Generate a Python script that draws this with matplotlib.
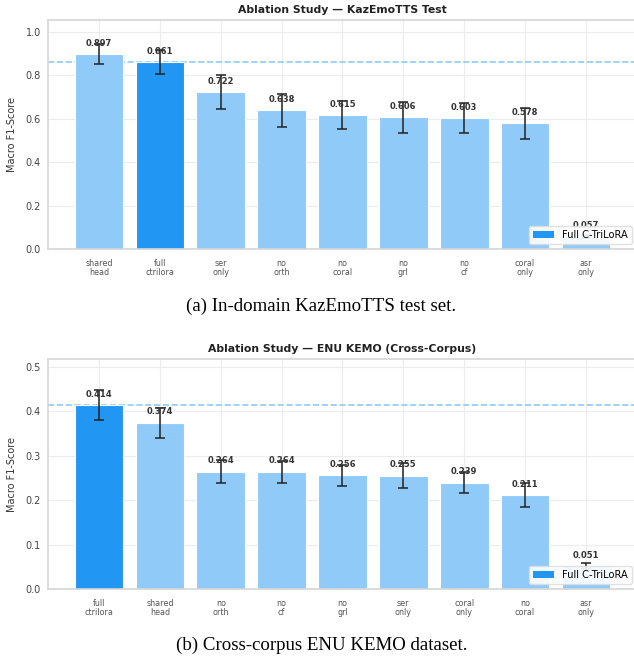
import matplotlib
matplotlib.use("Agg")
import matplotlib.pyplot as plt
from matplotlib.patches import Patch

# in-domain results (KazEmoTTS test)
labels_a = ["shared\nhead", "full\nctrilora", "ser\nonly", "no\north", "no\ncoral",
            "no\ngrl", "no\ncf", "coral\nonly", "asr\nonly"]
f1_a = [0.897, 0.861, 0.722, 0.638, 0.615, 0.606, 0.603, 0.578, 0.057]
std_a = [0.045, 0.055, 0.077, 0.075, 0.065, 0.072, 0.070, 0.070, 0.008]

# cross-corpus results (ENU KEMO)
labels_b = ["full\nctrilora", "shared\nhead", "no\north", "no\ncf", "no\ngrl",
            "ser\nonly", "coral\nonly", "no\ncoral", "asr\nonly"]
f1_b = [0.414, 0.374, 0.264, 0.264, 0.256, 0.255, 0.239, 0.211, 0.051]
std_b = [0.033, 0.034, 0.026, 0.025, 0.024, 0.028, 0.024, 0.027, 0.007]

FULL = "full\nctrilora"
DARK = "#2196F3"
LIGHT = "#90CAF9"


def ablation_panel(ax, labels, vals, errs, title, ymax):
    x = range(len(labels))
    colors = [DARK if l == FULL else LIGHT for l in labels]
    ax.bar(x, vals, width=0.8, color=colors, edgecolor="white", linewidth=0.8,
           yerr=errs, capsize=3.5, error_kw=dict(ecolor="#222222", elinewidth=1.1, capthick=1.1),
           zorder=2)
    for xi, v in zip(x, vals):
        ax.annotate(f"{v:.3f}", (xi, v), xytext=(0, 4.5), textcoords="offset points",
                    ha="center", va="bottom", fontsize=6, fontweight="bold", color="#333333",
                    zorder=3)
    full_val = vals[labels.index(FULL)]
    ax.axhline(full_val, color=LIGHT, ls="--", lw=1.2, zorder=1)
    ax.set_ylim(0, ymax)
    ax.set_xticks(list(x))
    ax.set_xticklabels(labels, fontsize=5.8, color="#555555", linespacing=1.0)
    ax.tick_params(axis="x", length=0, pad=7)
    ax.tick_params(axis="y", length=0, pad=5, labelsize=7, labelcolor="#444444")
    ax.set_ylabel("Macro F1-Score", fontsize=7, color="#333333", labelpad=6)
    ax.set_title(title, fontsize=7.8, fontweight="bold", color="#222222", pad=5)
    ax.grid(True, color="#ececec", lw=0.8, zorder=0)
    ax.set_axisbelow(True)
    for s in ax.spines.values():
        s.set_color("#d5d5d5")
        s.set_linewidth(1.2)
    leg = ax.legend(handles=[Patch(facecolor=DARK, label="Full C-TriLoRA")], loc="lower right",
                    fontsize=7.1, frameon=True, framealpha=0.9, edgecolor="#dddddd",
                    handlelength=2.2, borderpad=0.4, borderaxespad=0.5)
    leg.set_zorder(5)


fig = plt.figure(figsize=(6.34, 6.58), dpi=100)
ax1 = fig.add_axes([0.0757, 0.6216, 0.929, 0.348])
ax2 = fig.add_axes([0.0757, 0.1049, 0.929, 0.349])

ablation_panel(ax1, labels_a, f1_a, std_a, "Ablation Study — KazEmoTTS Test", 1.054)
ablation_panel(ax2, labels_b, f1_b, std_b, "Ablation Study — ENU KEMO (Cross-Corpus)", 0.5166)

fig.text(0.507, 0.534, "(a) In-domain KazEmoTTS test set.", ha="center", va="center",
         family="Liberation Serif", fontsize=13.6)
fig.text(0.507, 0.019, "(b) Cross-corpus ENU KEMO dataset.", ha="center", va="center",
         family="Liberation Serif", fontsize=13.6)

fig.savefig("out.png", dpi=100)
